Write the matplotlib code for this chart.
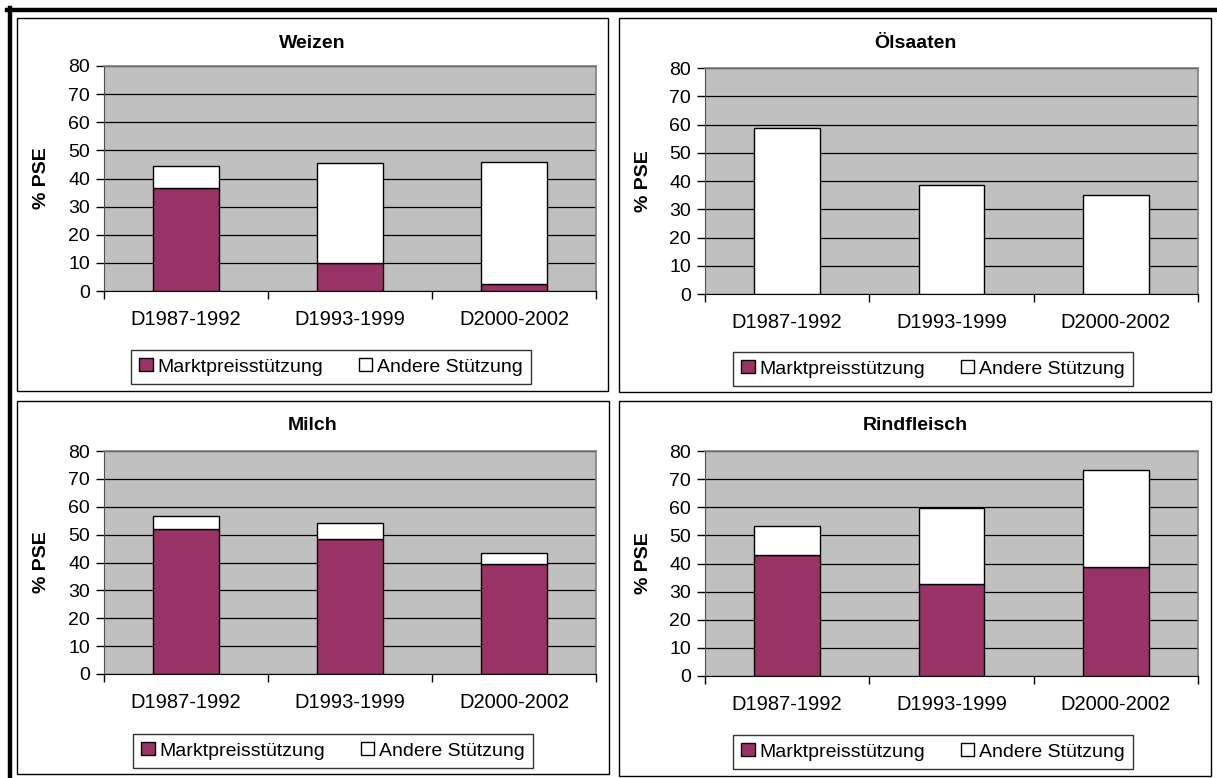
import numpy as np
import matplotlib
matplotlib.use('Agg')
import matplotlib.pyplot as plt
from matplotlib.patches import Rectangle, Patch
from matplotlib.lines import Line2D

plt.rcParams['font.family'] = ['Liberation Sans', 'DejaVu Sans']

categories = ['D1987-1992', 'D1993-1999', 'D2000-2002']

weizen_mps = [36.6, 9.9, 2.4]
weizen_other = [7.8, 35.7, 43.6]
oel_mps = [0.0, 0.0, 0.0]
oel_other = [58.6, 38.6, 35.1]
milch_mps = [52.1, 48.5, 39.6]
milch_other = [4.5, 5.8, 3.9]
rind_mps = [43.1, 32.8, 38.6]
rind_other = [10.2, 26.8, 34.8]

W, H = 1217, 778
MAROON = '#993366'
GREY = '#c0c0c0'

fig = plt.figure(figsize=(W / 100, H / 100), dpi=100)


def px_rect(x0, y0, x1, y1):
    # pixel box (top-left origin) -> figure fraction [l, b, w, h]
    return [x0 / W, 1 - y1 / H, (x1 - x0) / W, (y1 - y0) / H]


def fx(x):
    return x / W


def fy(y):
    return 1 - y / H


# outer heavy frame (top and left edge)
fig.add_artist(Line2D([fx(7), fx(1217)], [fy(10), fy(10)], color='black', lw=3.2))
fig.add_artist(Line2D([fx(9.5), fx(9.5)], [fy(8), fy(778)], color='black', lw=3.2))

panels = [
    dict(title='Weizen', mps=weizen_mps, other=weizen_other,
         box=(17, 18, 608, 391), ax=(104, 66, 596, 291), title_y=43, leg=(331, 367)),
    dict(title='Ölsaaten', mps=oel_mps, other=oel_other,
         box=(619, 18, 1211, 392), ax=(705, 68, 1198, 294), title_y=43, leg=(933, 369)),
    dict(title='Milch', mps=milch_mps, other=milch_other,
         box=(17, 401, 609, 774), ax=(104, 451, 596, 674), title_y=426, leg=(333, 751)),
    dict(title='Rindfleisch', mps=rind_mps, other=rind_other,
         box=(619, 401, 1211, 776), ax=(705, 451, 1198, 676), title_y=426, leg=(933, 752)),
]

x = np.arange(len(categories))

for p in panels:
    bx0, by0, bx1, by1 = p['box']
    fig.add_artist(Rectangle((fx(bx0), fy(by1)), (bx1 - bx0) / W, (by1 - by0) / H,
                             transform=fig.transFigure, fill=False,
                             edgecolor='black', lw=1.0))

    ax = fig.add_axes(px_rect(*p['ax']))
    ax.set_facecolor(GREY)
    ax.set_xlim(-0.5, 2.5)
    ax.set_ylim(0, 80)
    ax.set_yticks(np.arange(0, 81, 10))
    ax.yaxis.grid(True, color='black', lw=0.9)
    ax.set_axisbelow(True)

    ax.bar(x, p['mps'], width=0.4, color=MAROON, edgecolor='black', lw=1.0,
           label='Marktpreisstützung', zorder=3)
    ax.bar(x, p['other'], width=0.4, bottom=p['mps'], color='white',
           edgecolor='black', lw=1.0, label='Andere Stützung', zorder=3)

    ax.set_xticks(x)
    ax.set_xticklabels(categories)
    ax.set_xticks([-0.5, 0.5, 1.5, 2.5], minor=True)
    ax.tick_params(axis='x', which='major', length=0, pad=14, labelsize=14.5)
    ax.tick_params(axis='x', which='minor', length=6, width=1.0, direction='out')
    ax.tick_params(axis='y', length=6, width=1.0, pad=4, labelsize=14)

    for s in ('top', 'right'):
        ax.spines[s].set_color('#808080')
        ax.spines[s].set_linewidth(1.2)
    ax.spines['left'].set_color('#505050')
    ax.spines['bottom'].set_color('black')

    ax0, ay0, ax1, ay1 = p['ax']
    fig.text(fx((bx0 + bx1) / 2), fy(p['title_y']), p['title'], ha='center', va='center',
             fontsize=14, fontweight='bold')
    fig.text(fx(bx0 + 25), fy((ay0 + ay1) / 2), '% PSE', rotation=90, ha='center',
             va='center', fontsize=14, fontweight='bold')

    handles = [Patch(facecolor=MAROON, edgecolor='black', lw=1.0),
               Patch(facecolor='white', edgecolor='black', lw=1.0)]
    leg = fig.legend(handles, ['Marktpreisstützung', 'Andere Stützung'],
                     loc='center', bbox_to_anchor=(fx(p['leg'][0]), fy(p['leg'][1])),
                     ncol=2, fontsize=14, frameon=True, fancybox=False,
                     handlelength=0.7, handleheight=0.65, handletextpad=0.25,
                     columnspacing=1.8, borderpad=0.45, borderaxespad=0)
    leg.get_frame().set_edgecolor('black')
    leg.get_frame().set_linewidth(1.0)

fig.savefig('out.png', dpi=100)
